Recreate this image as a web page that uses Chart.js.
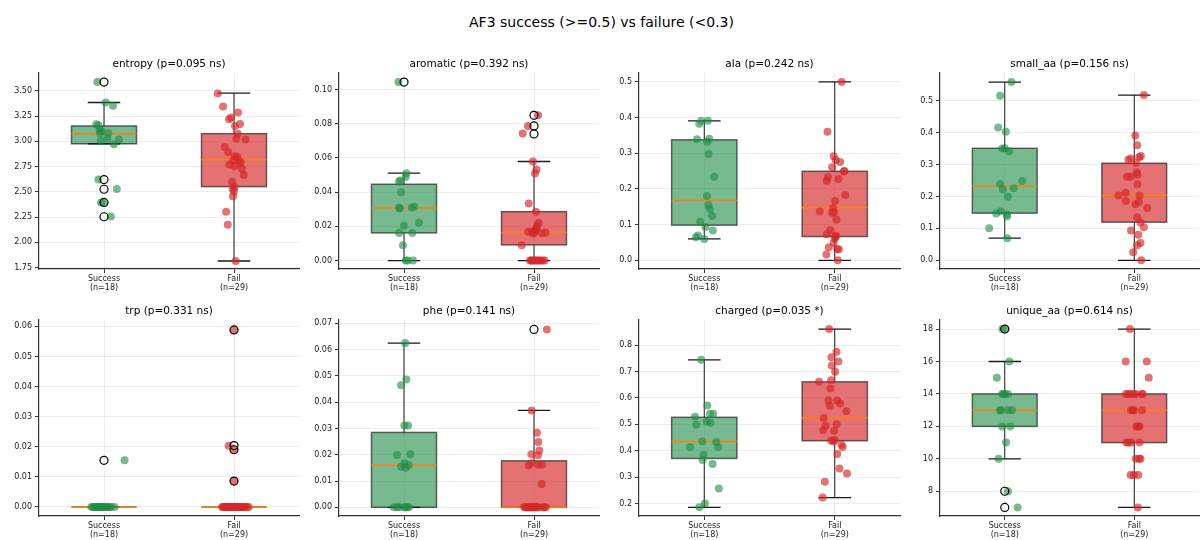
<!DOCTYPE html>
<html><head><meta charset="utf-8">
<script src="https://cdn.jsdelivr.net/npm/chart.js@4/dist/chart.umd.min.js"></script>
<style>
html,body{margin:0;padding:0;background:#fff;}
#wrap{position:relative;width:1203px;height:540px;overflow:hidden;font-family:"DejaVu Sans";}
#title{position:absolute;left:0;top:14px;width:1203px;text-align:center;font-size:14px;line-height:16px;color:#000;}
canvas{position:absolute;}
</style></head>
<body><div id="wrap"><div id="title">AF3 success (&gt;=0.5) vs failure (&lt;0.3)</div></div>
<script>
// ---------- DATA ----------
const groupNames = ['Success', 'Fail'];
const featureNames = ['entropy','aromatic','ala','small_aa','trp','phe','charged','unique_aa'];
const pLabels = ['p=0.095 ns','p=0.392 ns','p=0.242 ns','p=0.156 ns','p=0.331 ns','p=0.141 ns','p=0.035 *','p=0.614 ns'];

// entropy
const entS  = [3.586,3.384,3.351,3.168,3.158,3.119,3.079,3.079,3.029,3.019,3.003,2.970,2.622,2.529,2.396,2.396,2.257,3.100];
const entSJ = [-0.051,0.013,0.069,-0.059,-0.043,-0.033,-0.031,0.033,0.025,0.115,-0.025,0.076,-0.043,0.099,-0.023,-0.003,0.053,-0.018];
const entF  = [3.474,3.344,3.285,3.235,3.218,3.172,3.152,3.076,3.026,3.019,2.943,2.893,2.853,2.847,2.814,2.804,2.790,2.771,2.754,2.728,2.668,2.598,2.549,2.529,2.503,2.456,2.303,2.174,1.816];
const entFJ = [-0.125,-0.084,0.031,-0.023,-0.038,0.046,0.008,0.028,0.018,0.089,-0.071,-0.043,0.008,0.025,-0.003,0.041,0.051,-0.036,0.003,0.061,0.074,-0.015,0.003,-0.010,0,-0.008,-0.061,-0.048,0.013];
const entBoxS = [2.976,2.976,3.076,3.152,3.384];
const entBoxF = [1.816,2.552,2.817,3.076,3.477];
const entOutS = [3.586,2.622,2.526,2.396,2.254];
const entOutF = [];
const entTicks = [1.75,2.00,2.25,2.50,2.75,3.00,3.25,3.50];
const entTickLabels = ['1.75','2.00','2.25','2.50','2.75','3.00','3.25','3.50'];
const entRange = [1.737,3.676];

// aromatic
const aroS  = [0.1043,0.0511,0.0489,0.0468,0.0462,0.0399,0.0311,0.0305,0.0311,0.0315,0.0204,0.0221,0.0162,0.0162,0.0090,0,0,0];
const aroSJ = [-0.043,0.018,0.013,-0.028,-0.038,-0.023,-0.038,-0.033,0.059,0.079,0,0.115,-0.038,0.064,-0.008,0.013,0.028,0.069];
const aroF  = [0.0849,0.0787,0.0742,0.0579,0.0532,0.0509,0.0333,0.0286,0.0221,0.0205,0.0170,0.0168,0.0164,0.0158,0.0160,0.0164,0.0180,0.0190,0.0090,0,0,0,0,0,0,0,0,0,0];
const aroFJ = [0.031,-0.046,-0.087,-0.008,0.018,0.008,-0.041,0.015,0.036,0.025,-0.015,-0.046,0.005,-0.008,0.061,0.089,0.015,0.020,-0.094,-0.031,-0.015,0,0.015,0.036,0.051,0.066,0.081,0.025,-0.020];
const aroBoxS = [0,0.0162,0.0307,0.0446,0.0511];
const aroBoxF = [0,0.0092,0.0164,0.0286,0.0579];
const aroOutS = [0.1043];
const aroOutF = [0.0849,0.0787,0.0740];
const aroTicks = [0,0.02,0.04,0.06,0.08,0.10];
const aroTickLabels = ['0.00','0.02','0.04','0.06','0.08','0.10'];
const aroRange = [-0.0049,0.1096];

// ala
const alaS  = [0.391,0.391,0.383,0.339,0.341,0.332,0.298,0.2345,0.180,0.155,0.144,0.124,0.108,0.093,0.0835,0.0694,0.0647,0.060];
const alaSJ = [-0.023,0.028,-0.038,-0.056,0.038,0.023,0.033,0.076,0.020,0.031,0.043,0.061,-0.031,0.010,0.066,-0.048,-0.064,0];
const alaF  = [0.5,0.360,0.2917,0.2805,0.2758,0.2608,0.2505,0.249,0.228,0.2336,0.2223,0.183,0.166,0.137,0.1463,0.133,0.135,0.1144,0.0844,0.073,0.0666,0.061,0.0488,0.0366,0.031,0.031,0.016,0,0.068];
const alaFJ = [0.053,-0.056,-0.008,0.008,0.041,-0.020,0.074,0.069,0.028,-0.053,-0.061,0.081,0.003,-0.115,-0.013,-0.020,-0.005,0.013,-0.033,-0.061,0.005,0,-0.008,-0.046,0.018,0.031,-0.064,0.023,0.010];
const alaBoxS = [0.060,0.0985,0.168,0.3377,0.391];
const alaBoxF = [0,0.0666,0.1473,0.2495,0.5];
const alaOutS = [];
const alaOutF = [];
const alaTicks = [0,0.1,0.2,0.3,0.4,0.5];
const alaTickLabels = ['0.0','0.1','0.2','0.3','0.4','0.5'];
const alaRange = [-0.0244,0.525];

// small_aa
const smaS  = [0.5587,0.5157,0.416,0.4025,0.350,0.351,0.3417,0.2484,0.239,0.2254,0.2222,0.199,0.1468,0.154,0.1436,0.137,0.1006,0.0692];
const smaSJ = [0.051,-0.036,-0.051,0.008,-0.020,0,0.033,0.135,-0.036,0.069,-0.015,0.025,-0.066,-0.031,0.018,0.018,-0.120,0.020];
const smaF  = [0.5178,0.391,0.3606,0.327,0.3228,0.3187,0.3155,0.306,0.2757,0.2683,0.262,0.262,0.238,0.2034,0.2117,0.2034,0.1855,0.1824,0.176,0.1635,0.1352,0.1185,0.1038,0.0933,0.0797,0.0545,0.0472,0.0252,0];
const smaFJ = [0.074,0.008,0.023,0.051,0.038,-0.028,-0.046,0.015,0.020,0.025,-0.056,-0.028,0.025,-0.122,-0.066,0.041,-0.064,0.036,0.008,0.099,0.023,0.048,0.074,-0.025,0.031,0.048,0.023,-0.008,0.053];
const smaBoxS = [0.0692,0.1478,0.2327,0.351,0.5587];
const smaBoxF = [0,0.1195,0.2034,0.304,0.5178];
const smaOutS = [];
const smaOutF = [];
const smaTicks = [0,0.1,0.2,0.3,0.4,0.5];
const smaTickLabels = ['0.0','0.1','0.2','0.3','0.4','0.5'];
const smaRange = [-0.0273,0.587];

// trp
const trpS  = [0.0155,0,0,0,0,0,0,0,0,0,0,0,0,0,0,0,0,0];
const trpSJ = [0.158,-0.097,-0.085,-0.074,-0.066,-0.055,-0.046,-0.038,-0.030,-0.021,-0.012,-0.004,0.008,0.017,0.028,0.041,0.055,0.081];
const trpF  = [0.0588,0.0203,0.0190,0.0086,0,0,0,0,0,0,0,0,0,0,0,0,0,0,0,0,0,0,0,0,0,0,0,0,0];
const trpFJ = [0,-0.041,0,0,-0.092,-0.083,-0.075,-0.066,-0.058,-0.050,-0.043,-0.035,-0.027,-0.020,-0.013,-0.006,0.002,0.009,0.016,0.024,0.031,0.039,0.047,0.056,0.064,0.072,0.083,0.100,0.112];
const trpBoxS = [0,0,0,0,0];
const trpBoxF = [0,0,0,0,0];
const trpOutS = [0.0155];
const trpOutF = [0.0588,0.0204,0.0190,0.0086];
const trpTicks = [0,0.01,0.02,0.03,0.04,0.05,0.06];
const trpTickLabels = ['0.00','0.01','0.02','0.03','0.04','0.05','0.06'];
const trpRange = [-0.003,0.0621];

// phe
const pheS  = [0.0625,0.0487,0.0465,0.0311,0.0311,0.0199,0.0202,0.0168,0.0154,0.0151,0.0160,0,0,0,0,0,0,0];
const pheSJ = [0.010,0.018,-0.023,0.003,0.031,-0.053,0.048,0.003,-0.023,0.013,0.036,-0.079,-0.053,-0.033,0.003,0.013,0.023,0.038];
const pheF  = [0.0677,0.0369,0.0284,0.0249,0.0216,0.0202,0.0198,0.0168,0.0159,0.0162,0.0162,0.0089,0,0,0,0,0,0,0,0,0,0,0,0,0,0,0,0,0];
const pheFJ = [0.099,-0.018,0.023,0.033,0.041,-0.020,0.031,-0.023,-0.041,0.031,0.061,0.059,-0.076,-0.066,-0.058,-0.050,-0.041,-0.033,-0.025,-0.018,-0.010,-0.002,0.006,0.015,0.024,0.033,0.070,0.078,0.092];
const pheBoxS = [0,0,0.016,0.0285,0.0625];
const pheBoxF = [0,0,0,0.0177,0.0369];
const pheOutS = [];
const pheOutF = [0.0677];
const pheTicks = [0,0.01,0.02,0.03,0.04,0.05,0.06,0.07];
const pheTickLabels = ['0.00','0.01','0.02','0.03','0.04','0.05','0.06','0.07'];
const pheRange = [-0.0033,0.0713];

// charged
const chgS  = [0.7443,0.5709,0.5405,0.5405,0.529,0.510,0.5063,0.4987,0.4354,0.4329,0.4139,0.4139,0.3848,0.3646,0.3494,0.257,0.200,0.186];
const chgSJ = [-0.023,0.023,0.043,0.069,-0.071,0.018,0.048,-0.061,-0.015,0.092,0.107,-0.109,-0.005,-0.013,0.064,0.112,0.005,-0.038];
const chgF  = [0.8608,0.7747,0.7544,0.738,0.7228,0.6987,0.6608,0.667,0.6354,0.5899,0.5899,0.5785,0.5696,0.5494,0.524,0.500,0.4949,0.4772,0.4747,0.4392,0.4354,0.4405,0.4228,0.4139,0.3873,0.3329,0.3139,0.2823,0.2228];
const chgFJ = [-0.043,0.013,-0.025,0.028,-0.023,0.003,-0.120,-0.028,-0.033,-0.048,0.018,0.041,-0.038,0.089,-0.084,0.015,-0.071,-0.089,-0.005,-0.028,-0.010,0,0.051,0.061,0.020,0.036,0.094,-0.076,-0.092];
const chgBoxS = [0.186,0.3709,0.4354,0.5266,0.7443];
const chgBoxF = [0.2228,0.438,0.5253,0.6608,0.8608];
const chgOutS = [];
const chgOutF = [];
const chgTicks = [0.2,0.3,0.4,0.5,0.6,0.7,0.8];
const chgTickLabels = ['0.2','0.3','0.4','0.5','0.6','0.7','0.8'];
const chgRange = [0.153,0.895];

// unique_aa
const uniS  = [18,18,16,15,14,14,14,14,13,13,13,13,12,12,11,10,8,7];
const uniSJ = [-0.018,0.005,0.036,-0.061,-0.020,0,0.025,-0.010,-0.036,0.025,0.056,-0.031,-0.020,0.043,0.010,-0.048,0.025,0.099];
const uniF  = [18,16,16,15,14,14,14,14,14,14,14,13,13,13,13,12,12,12,11,11,11,11,10,10,10,9,9,9,7];
const uniFJ = [-0.033,-0.066,0.097,0.112,-0.064,-0.046,-0.028,-0.005,0.015,0.059,0.064,-0.025,-0.003,0.059,-0.010,0.015,0.031,0.041,-0.061,-0.043,-0.023,0.041,0.013,0.038,0.048,-0.028,-0.003,0.031,0.028];
const uniBoxS = [10,12,13,14,16];
const uniBoxF = [7,11,13,14,18];
const uniOutS = [18,8,7];
const uniOutF = [];
const uniTicks = [8,10,12,14,16,18];
const uniTickLabels = ['8','10','12','14','16','18'];
const uniRange = [6.474,18.56];

// ---------- ASSEMBLY ----------
const panelData = [
  [entS,entSJ,entF,entFJ,entBoxS,entBoxF,entOutS,entOutF,entTicks,entTickLabels,entRange],
  [aroS,aroSJ,aroF,aroFJ,aroBoxS,aroBoxF,aroOutS,aroOutF,aroTicks,aroTickLabels,aroRange],
  [alaS,alaSJ,alaF,alaFJ,alaBoxS,alaBoxF,alaOutS,alaOutF,alaTicks,alaTickLabels,alaRange],
  [smaS,smaSJ,smaF,smaFJ,smaBoxS,smaBoxF,smaOutS,smaOutF,smaTicks,smaTickLabels,smaRange],
  [trpS,trpSJ,trpF,trpFJ,trpBoxS,trpBoxF,trpOutS,trpOutF,trpTicks,trpTickLabels,trpRange],
  [pheS,pheSJ,pheF,pheFJ,pheBoxS,pheBoxF,pheOutS,pheOutF,pheTicks,pheTickLabels,pheRange],
  [chgS,chgSJ,chgF,chgFJ,chgBoxS,chgBoxF,chgOutS,chgOutF,chgTicks,chgTickLabels,chgRange],
  [uniS,uniSJ,uniF,uniFJ,uniBoxS,uniBoxF,uniOutS,uniOutF,uniTicks,uniTickLabels,uniRange]
];

// layout (plot area left, top, width, height)
const plotRects = [
  [39,73,262,196],[339,73,262,196],[639,73,263,196],[940,73,261,196],
  [39,320,262,196],[339,320,262,196],[639,320,263,196],[940,320,261,196]
];
const FONT = 'DejaVu Sans';
const groupFill = ['rgba(30,140,70,0.6)','rgba(214,39,40,0.65)'];
const pointFill = ['rgba(30,140,70,0.6)','rgba(214,39,40,0.65)'];

const boxPlugin = {
  id: 'boxes',
  beforeDatasetsDraw(chart) {
    const {ctx, scales:{x,y}} = chart;
    const st = chart.options.plugins.boxes;
    st.boxes.forEach((b, g) => {
      const pos = g + 1;
      const [wlo,q1,med,q3,whi] = b;
      const xc = x.getPixelForValue(pos);
      const xl = x.getPixelForValue(pos - 0.25), xr = x.getPixelForValue(pos + 0.25);
      const cl = x.getPixelForValue(pos - 0.125), cr = x.getPixelForValue(pos + 0.125);
      ctx.save();
      const yt = y.getPixelForValue(q3), yb = y.getPixelForValue(q1);
      ctx.fillStyle = groupFill[g];
      ctx.fillRect(xl, yt, xr - xl, yb - yt);
      ctx.strokeStyle = 'rgba(40,40,40,0.7)';
      ctx.lineWidth = 1.5;
      ctx.strokeRect(xl, yt, xr - xl, yb - yt);
      ctx.strokeStyle = '#1a1a1a';
      ctx.lineWidth = 1;
      ctx.beginPath();
      ctx.moveTo(xc, yt); ctx.lineTo(xc, y.getPixelForValue(whi));
      ctx.moveTo(xc, yb); ctx.lineTo(xc, y.getPixelForValue(wlo));
      ctx.stroke();
      ctx.lineWidth = 1.3;
      ctx.beginPath();
      ctx.moveTo(cl, y.getPixelForValue(whi)); ctx.lineTo(cr, y.getPixelForValue(whi));
      ctx.moveTo(cl, y.getPixelForValue(wlo)); ctx.lineTo(cr, y.getPixelForValue(wlo));
      ctx.stroke();
      ctx.strokeStyle = '#ff7f0e';
      ctx.lineWidth = 1.5;
      ctx.beginPath();
      ctx.moveTo(xl, y.getPixelForValue(med)); ctx.lineTo(xr, y.getPixelForValue(med));
      ctx.stroke();
      ctx.restore();
    });
  },
  afterDatasetsDraw(chart) {
    const {ctx, scales:{x,y}} = chart;
    const st = chart.options.plugins.boxes;
    st.outliers.forEach((arr, g) => {
      const xc = x.getPixelForValue(g + 1);
      arr.forEach(v => {
        ctx.save();
        ctx.strokeStyle = '#000';
        ctx.lineWidth = 1.2;
        ctx.beginPath();
        ctx.arc(xc, y.getPixelForValue(v), 4, 0, Math.PI * 2);
        ctx.stroke();
        ctx.restore();
      });
    });
  },
  afterDraw(chart) {
    // subplot title centred over the plot area
    const {ctx, chartArea} = chart;
    const st = chart.options.plugins.boxes;
    ctx.save();
    ctx.fillStyle = '#000';
    ctx.font = '10.5px "DejaVu Sans"';
    ctx.textAlign = 'center';
    ctx.textBaseline = 'middle';
    ctx.fillText(st.title, (chartArea.left + chartArea.right) / 2, chartArea.top - 9);
    ctx.restore();
  }
};

const wrap = document.getElementById('wrap');
panelData.forEach((pd, i) => {
  const [sv, sj, fv, fj, bs, bf, os, of, ticks, tickLabels, range] = pd;
  const [L, T, W, H] = plotRects[i];
  const cv = document.createElement('canvas');
  const cw = 40 + W + 2, ch = H + 60;
  cv.width = cw; cv.height = ch;
  cv.style.left = (L - 40) + 'px';
  cv.style.top = (T - 30) + 'px';
  cv.style.width = cw + 'px'; cv.style.height = ch + 'px';
  wrap.appendChild(cv);
  const counts = [sv.length, fv.length];
  new Chart(cv, {
    type: 'scatter',
    data: {
      datasets: [
        {data: sv.map((v, k) => ({x: 1 + sj[k], y: v})), backgroundColor: pointFill[0], borderWidth: 0, pointRadius: 4, pointHoverRadius: 4},
        {data: fv.map((v, k) => ({x: 2 + fj[k], y: v})), backgroundColor: pointFill[1], borderWidth: 0, pointRadius: 4, pointHoverRadius: 4}
      ]
    },
    plugins: [boxPlugin],
    options: {
      responsive: false,
      animation: false,
      devicePixelRatio: 1,
      layout: {padding: {left: 0, right: 2, top: 30, bottom: 0}},
      events: [],
      plugins: {
        legend: {display: false},
        tooltip: {enabled: false},
        title: {display: false},
        boxes: {boxes: [bs, bf], outliers: [os, of], title: featureNames[i] + ' (' + pLabels[i] + ')'}
      },
      scales: {
        x: {
          type: 'linear', min: 0.5, max: 2.5,
          afterBuildTicks: s => { s.ticks = [{value: 1}, {value: 2}]; },
          afterFit: s => { s.height = 30; s.paddingLeft = 0; s.paddingRight = 0; },
          ticks: {
            autoSkip: false, maxRotation: 0, padding: 2,
            color: '#222',
            font: {family: FONT, size: 8, lineHeight: 1.1},
            callback: (v) => [groupNames[v - 1], '(n=' + counts[v - 1] + ')']
          },
          grid: {color: 'rgba(0,0,0,0.07)', tickColor: '#333', tickLength: 4, lineWidth: 1},
          border: {display: true, color: '#333', width: 1.2}
        },
        y: {
          type: 'linear', min: range[0], max: range[1],
          afterBuildTicks: s => { s.ticks = ticks.map(v => ({value: v})); },
          afterFit: s => { s.width = 40; s.paddingTop = 0; s.paddingBottom = 0; },
          ticks: {
            autoSkip: false, padding: 3,
            color: '#222',
            font: {family: FONT, size: 8},
            callback: (v, idx) => tickLabels[idx]
          },
          grid: {color: 'rgba(0,0,0,0.07)', tickColor: '#333', tickLength: 4, lineWidth: 1},
          border: {display: true, color: '#333', width: 1.2}
        }
      }
    }
  });
});
</script>
</body></html>
